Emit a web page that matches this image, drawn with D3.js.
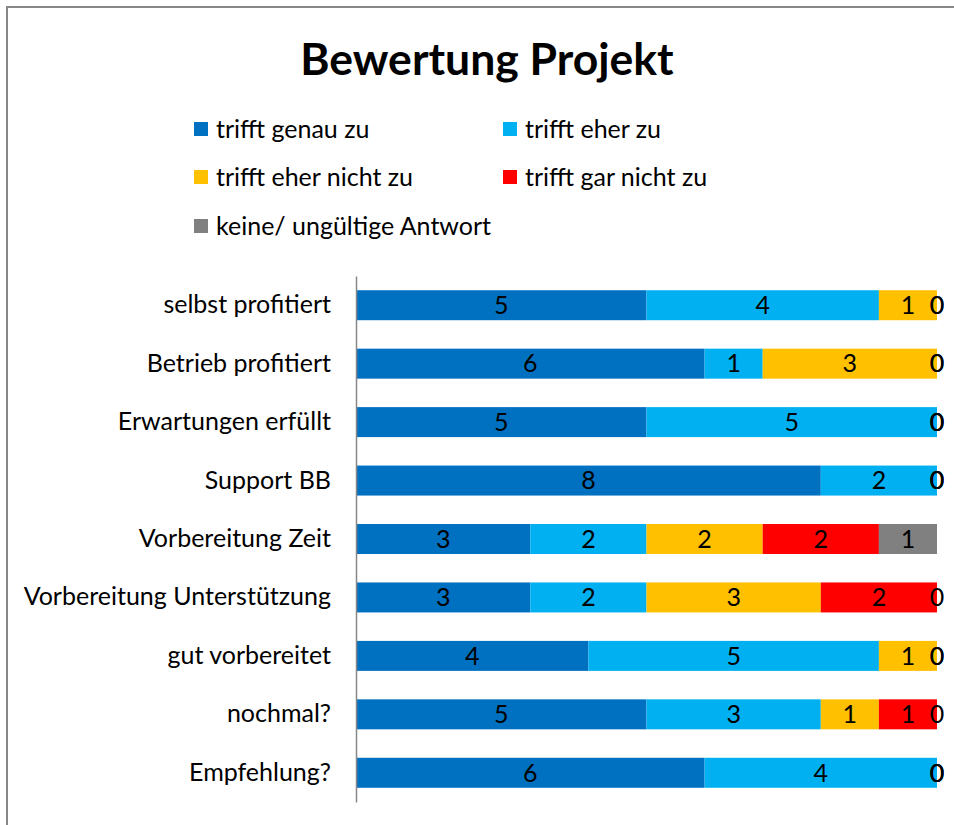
<!DOCTYPE html>
<html>
<head>
<meta charset="utf-8">
<script src="https://cdn.jsdelivr.net/npm/d3@7"></script>
<style>
  body { margin: 0; background: #fff; }
  svg text { font-family: Lato, "Open Sans", sans-serif; fill: #000; }
</style>
</head>
<body>
<svg id="chart"></svg>
<script>
  // categories (top to bottom) and counts per answer
  const categories = [
    "selbst profitiert", "Betrieb profitiert", "Erwartungen erfüllt", "Support BB",
    "Vorbereitung Zeit", "Vorbereitung Unterstützung", "gut vorbereitet", "nochmal?", "Empfehlung?"
  ];
  const seriesNames = [
    "trifft genau zu", "trifft eher zu", "trifft eher nicht zu", "trifft gar nicht zu", "keine/ ungültige Antwort"
  ];
  const genau     = [5, 6, 5, 8, 3, 3, 4, 5, 6];
  const eher      = [4, 1, 5, 2, 2, 2, 5, 3, 4];
  const eherNicht = [1, 3, 0, 0, 2, 3, 1, 1, 0];
  const garNicht  = [0, 0, 0, 0, 2, 2, 0, 1, 0];
  const keine     = [0, 0, 0, 0, 1, 0, 0, 0, 0];
  const colors = ["#0070C0", "#00B0F0", "#FFC000", "#FF0000", "#808080"];

  const W = 954, H = 825;
  const FS = 25;
  const svg = d3.select("#chart").attr("width", W).attr("height", H);

  // chart frame (extends past the picture on right/bottom)
  svg.append("rect").attr("x", 7).attr("y", 7).attr("width", 1000).attr("height", 900)
    .attr("fill", "#fff").attr("stroke", "#878787").attr("stroke-width", 2);

  svg.append("text").attr("x", 487).attr("y", 75).attr("text-anchor", "middle")
    .attr("font-size", 44.5).attr("font-weight", "bold").text("Bewertung Projekt");

  // legend
  const legendPos = [[194, 129], [503, 129], [194, 177], [503, 177], [194, 226]];
  seriesNames.forEach((name, i) => {
    const [lx, ly] = legendPos[i];
    svg.append("rect").attr("x", lx).attr("y", ly - 7).attr("width", 14).attr("height", 14)
      .attr("fill", colors[i]);
    svg.append("text").attr("x", lx + 22).attr("y", ly).attr("dy", "0.35em")
      .attr("font-size", FS).text(name);
  });

  const rows = categories.map((c, i) => ({
    cat: c,
    vals: [genau[i], eher[i], eherNicht[i], garNicht[i], keine[i]]
  }));

  const x = d3.scaleLinear().domain([0, 10]).range([356, 937]);
  const y = d3.scaleBand().domain(categories).range([276, 802]).paddingInner(0.487).paddingOuter(0.2435);

  const stack = d3.stack().keys(d3.range(5)).value((d, k) => d.vals[k]);
  const layers = stack(rows);

  const g = svg.append("g");
  layers.forEach((layer, k) => {
    g.selectAll(null).data(layer).join("rect")
      .attr("x", d => x(d[0]))
      .attr("y", d => y(d.data.cat))
      .attr("width", d => x(d[1]) - x(d[0]))
      .attr("height", y.bandwidth())
      .attr("fill", colors[k]);
  });

  // value labels, zero values end up stacked at the bar end like in Excel
  layers.forEach((layer, k) => {
    g.selectAll(null).data(layer).join("text")
      .attr("x", d => (x(d[0]) + x(d[1])) / 2)
      .attr("y", d => y(d.data.cat) + y.bandwidth() / 2)
      .attr("dy", "0.35em")
      .attr("text-anchor", "middle")
      .attr("font-size", FS)
      .text(d => d[1] - d[0]);
  });

  const axis = svg.append("g").attr("transform", "translate(356,0)")
    .call(d3.axisLeft(y).tickSize(0).tickPadding(25));
  axis.select(".domain").attr("stroke", "#878787").attr("stroke-width", 1.5);
  axis.selectAll("text").attr("font-size", FS).attr("font-family", "Lato, sans-serif").attr("fill", "#000");
</script>
</body>
</html>
